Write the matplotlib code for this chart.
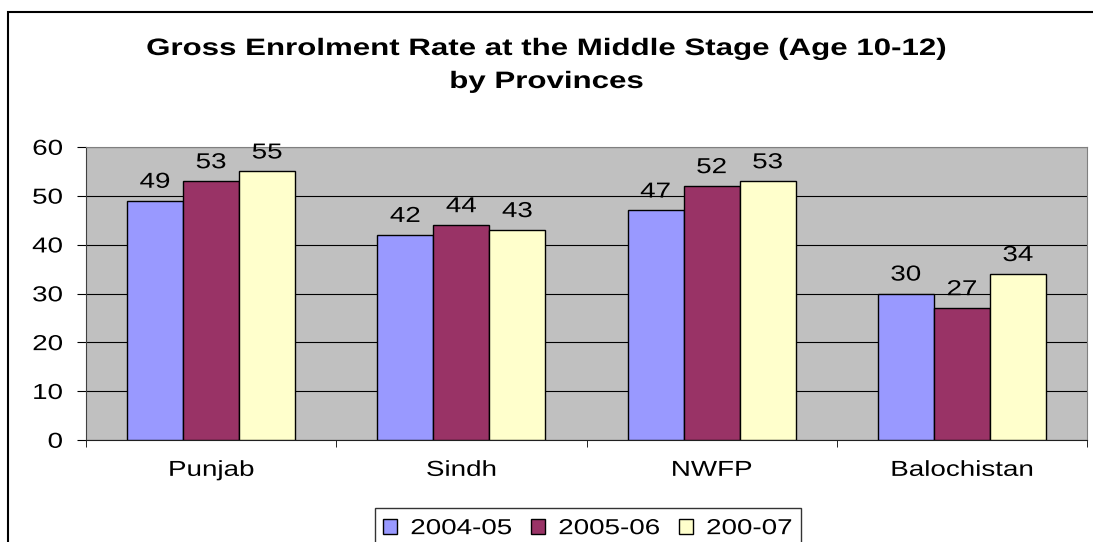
import matplotlib.pyplot as plt
import numpy as np
from matplotlib.patches import Rectangle
from matplotlib.patheffects import AbstractPathEffect
from matplotlib.transforms import Affine2D

provinces = ['Punjab', 'Sindh', 'NWFP', 'Balochistan']
years = ['2004-05', '2005-06', '200-07']
ger_2004 = [49, 42, 47, 30]
ger_2005 = [53, 44, 52, 27]
ger_2006 = [55, 43, 53, 34]
colors = ['#9999FF', '#993366', '#FFFFCC']

plt.rcParams['font.family'] = ['Liberation Sans', 'DejaVu Sans']


# the original text is drawn wide and flat, so squash glyphs vertically
# around the middle of the cap height (text path units, FONT_SCALE=100)
class Squash(AbstractPathEffect):
    def __init__(self, sy=0.78):
        super().__init__()
        self.sy = sy

    def draw_path(self, renderer, gc, tpath, affine, rgbFace=None):
        t = Affine2D().translate(0, -36).scale(1, self.sy).translate(0, 36)
        renderer.draw_path(gc, tpath, t + affine, rgbFace)


sq = [Squash(0.78)]

fig = plt.figure(figsize=(10.93, 5.42), dpi=100)
# outer chart border
fig.patches.append(Rectangle((8 / 1093, -0.05), 1.1, 1 - 12 / 542 + 0.05,
                             transform=fig.transFigure, fill=False, edgecolor='black', lw=1.5))

ax = fig.add_axes([86 / 1093, 1 - 440 / 542, (1087 - 86) / 1093, (440 - 147) / 542])
ax.set_facecolor('#C0C0C0')

x = np.arange(len(provinces))
w = 0.224
series = [ger_2004, ger_2005, ger_2006]
for i, vals in enumerate(series):
    bars = ax.bar(x + (i - 1) * w, vals, w, color=colors[i], edgecolor='black', lw=1,
                  label=years[i], zorder=3)
    for b, v in zip(bars, vals):
        ax.text(b.get_x() + b.get_width() / 2, v + 2.2, str(v), ha='center', va='baseline',
                fontsize=20, zorder=4, path_effects=sq)

ax.set_xlim(-0.5, 3.5)
ax.set_ylim(0, 60)
ax.set_yticks(range(0, 61, 10))
ax.yaxis.grid(True, color='black', lw=0.8, zorder=1)
ax.set_xticks(x)
ax.set_xticklabels(provinces, fontsize=20)
ax.tick_params(axis='y', labelsize=20, length=6.5, direction='out', pad=10)
ax.tick_params(axis='x', length=0, pad=13)
ax.set_xticks([-0.5, 0.5, 1.5, 2.5, 3.5], minor=True)
ax.tick_params(axis='x', which='minor', length=5, direction='out')
for lab in ax.get_xticklabels() + ax.get_yticklabels():
    lab.set_path_effects(sq)
for s in ['top', 'right']:
    ax.spines[s].set_color('#808080')
ax.spines['left'].set_color('#404040')
ax.spines['bottom'].set_color('#202020')

fig.text(0.5, 1 - 57.7 / 542, 'Gross Enrolment Rate at the Middle Stage (Age 10-12)',
         ha='center', va='baseline', fontsize=22.5, fontweight='bold',
         path_effects=[Squash(0.76)])
fig.text(0.5, 1 - 90.7 / 542, 'by Provinces', ha='center', va='baseline', fontsize=22.5,
         fontweight='bold', path_effects=[Squash(0.76)])

leg = fig.legend(loc='upper left', bbox_to_anchor=(375 / 1093, 1 - 508 / 542), ncol=3,
                 fontsize=20, frameon=True, fancybox=False, edgecolor='black',
                 handlelength=0.5, handleheight=0.5, handletextpad=0.47, columnspacing=0.68,
                 borderpad=0.3, borderaxespad=0)
leg.get_frame().set_linewidth(1)
for t in leg.get_texts():
    t.set_path_effects(sq)

fig.savefig('out.png', dpi=100)
